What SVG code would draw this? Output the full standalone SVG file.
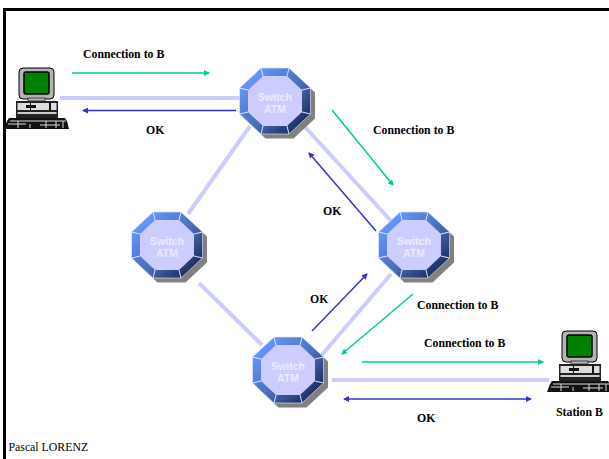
<svg xmlns="http://www.w3.org/2000/svg" width="609" height="459" viewBox="0 0 609 459">
<style>
.t{font-family:"Liberation Serif",serif;font-size:11.800px;font-weight:bold;fill:#000}
.sw{font-family:"Liberation Sans",sans-serif;font-size:10.500px;font-weight:bold;fill:#ecebff;text-anchor:middle}
.link{stroke:#ccccff;stroke-width:4;fill:none}
.g{stroke:#00cc99;stroke-width:1.500;fill:none;marker-end:url(#mg)}
.b{stroke:#3333cc;stroke-width:1.500;fill:none;marker-end:url(#mb)}
.sep{stroke:#dfe6ff;stroke-width:1}
</style>
<defs>
<marker id="mg" viewBox="0 0 6 6" refX="5" refY="3" markerWidth="6" markerHeight="6" markerUnits="userSpaceOnUse" orient="auto-start-reverse"><path d="M0 0L6 3L0 6z" fill="#00cc99"/></marker>
<marker id="mb" viewBox="0 0 6 6" refX="5" refY="3" markerWidth="6" markerHeight="6" markerUnits="userSpaceOnUse" orient="auto-start-reverse"><path d="M0 0L6 3L0 6z" fill="#3333cc"/></marker>
<linearGradient id="fg" x1="0" y1="0" x2="1" y2="1"><stop offset="0.12" stop-color="#6699ff"/><stop offset="0.55" stop-color="#4a6cb8"/><stop offset="0.92" stop-color="#14224f"/></linearGradient>
<g id="switch">
<polygon points="-14,-33 14,-33 35.500,-13 35.500,13 14,33 -14,33 -35.500,13 -35.500,-13" fill="#808080" transform="translate(4.500,4.500)"/>
<polygon points="-14,-33 14,-33 35.500,-13 35.500,13 14,33 -14,33 -35.500,13 -35.500,-13" fill="url(#fg)" stroke="#e8ecff" stroke-width="0.600"/>
<g class="sep"><line x1="-12" y1="-25" x2="-14" y2="-33"/><line x1="12" y1="-25" x2="14" y2="-33"/><line x1="27" y1="-11" x2="35.500" y2="-13"/><line x1="27" y1="11" x2="35.500" y2="13"/><line x1="12" y1="25" x2="14" y2="33"/><line x1="-12" y1="25" x2="-14" y2="33"/><line x1="-27" y1="11" x2="-35.500" y2="13"/><line x1="-27" y1="-11" x2="-35.500" y2="-13"/></g>
<polygon points="-12,-25 12,-25 27,-11 27,11 12,25 -12,25 -27,11 -27,-11" fill="#ccccff"/>
<text class="sw" x="0" y="-0.500">Switch</text><text class="sw" x="0" y="11.500">ATM</text>
</g>
<g id="pc">
<rect x="3" y="0" width="35" height="31" rx="4" fill="#b3b3b3" stroke="#000" stroke-width="1"/>
<rect x="8" y="4" width="25" height="22" rx="2" fill="#008000" stroke="#000" stroke-width="1.500"/>
<rect x="12" y="30" width="17" height="3" fill="#b3b3b3" stroke="#000" stroke-width="0.600"/>
<rect x="0" y="33" width="42" height="19" fill="#222"/>
<rect x="1.500" y="35" width="39" height="7" fill="#ddd"/><rect x="10" y="37" width="10" height="3" fill="#111"/><rect x="14" y="35" width="1" height="7" fill="#111"/><rect x="33" y="35" width="2" height="7" fill="#111"/>
<rect x="1.500" y="44" width="39" height="2" fill="#ccc"/>
<polygon points="-12,61 -9,53 -7,50 49,50 51,53 53,61" fill="#111"/>
<path d="M-8 56H10M-6 53H50M14 56V60M24 57H44M30 53V60M40 53V60M2 53V60M47 53V60" stroke="#ddd" stroke-width="1" fill="none"/>
</g>
</defs>
<rect width="609" height="459" fill="#fff"/>
<path id="frame" d="M4.500 459V9.500H609" fill="none" stroke="#000" stroke-width="3"/>
<g id="connectors">
<line class="link" x1="60" y1="98" x2="240" y2="98"/>
<line class="link" x1="305" y1="127" x2="392" y2="222"/>
<line class="link" x1="250" y1="126" x2="188" y2="214"/>
<line class="link" x1="199" y1="283" x2="262" y2="345"/>
<line class="link" x1="391" y1="274" x2="320" y2="357"/>
<line class="link" x1="332" y1="380" x2="549" y2="380"/>
<line class="g" x1="72" y1="73" x2="209" y2="73"/>
<line class="b" x1="236" y1="110.500" x2="83" y2="110.500"/>
<line class="g" x1="332" y1="110" x2="393" y2="185"/>
<line class="b" x1="376" y1="231" x2="309" y2="153"/>
<line class="g" x1="413" y1="294" x2="342" y2="354"/>
<line class="b" x1="312" y1="331" x2="367" y2="274"/>
<line class="g" x1="362" y1="362" x2="543" y2="362"/>
<line class="b" x1="344" y1="399" x2="531" y2="399" style="marker-start:url(#mb)"/>
</g>
<g id="switch-top"><use href="#switch" x="275" y="101"/></g>
<g id="switch-right"><use href="#switch" x="414" y="245"/></g>
<g id="switch-left"><use href="#switch" x="167" y="245"/></g>
<g id="switch-bottom"><use href="#switch" x="288" y="370"/></g>
<g id="station-a"><use href="#pc" x="16" y="68"/></g>
<g id="station-b"><use href="#pc" x="559" y="331"/></g>
<text class="t" x="83" y="57.500">Connection to B</text>
<text class="t" x="146" y="134">OK</text>
<text class="t" x="373" y="134">Connection to B</text>
<text class="t" x="323" y="215">OK</text>
<text class="t" x="310" y="303">OK</text>
<text class="t" x="417" y="309">Connection to B</text>
<text class="t" x="424" y="347">Connection to B</text>
<text class="t" x="417" y="422">OK</text>
<text class="t" x="556" y="416">Station B</text>
<text x="8.500" y="451" style="font-family:'Liberation Serif',serif;font-size:11.800px;fill:#000">Pascal LORENZ</text>
</svg>
